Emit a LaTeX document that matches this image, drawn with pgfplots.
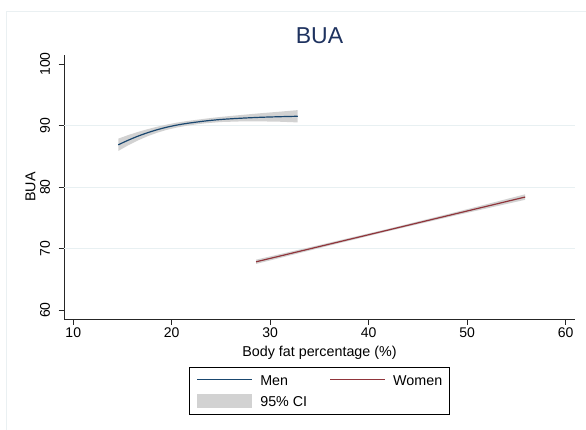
\documentclass[border=0pt]{standalone}
\usepackage{pgfplots}
\pgfplotsset{compat=1.18}
\usepackage{fontspec}
\setmainfont{Liberation Sans}
\definecolor{stnavy}{RGB}{26,71,111}
\definecolor{stmaroon}{RGB}{144,53,59}
\definecolor{cigray}{RGB}{210,210,210}
\definecolor{gridc}{RGB}{232,240,242}
\definecolor{titlec}{RGB}{30,50,95}
\definecolor{framec}{RGB}{234,240,242}
\begin{document}
\begin{tikzpicture}[x=1pt,y=1pt]
\begin{axis}[
  scale only axis,
  width=510.4pt, height=264pt,
  xmin=9.09, xmax=60.93, ymin=58.54, ymax=101.46,
  axis x line=bottom, axis y line=left,
  axis line style={-, line width=0.8pt, black!85},
  xtick={10,20,...,60}, ytick={60,70,...,100},
  tick align=outside, major tick length=5.7pt,
  tick style={line width=0.8pt, black!85},
  /pgf/number format/assume math mode=true,
  ticklabel style={font=\fontsize{14}{16}\selectfont, inner sep=0pt},
  xticklabel style={yshift=-2.6pt, anchor=north},
  yticklabel style={xshift=-8.3pt, rotate=90, anchor=south},
  extra y ticks={70,80,90}, extra y tick labels={},
  extra y tick style={grid=major, major tick length=0pt},
  major grid style={gridc, line width=0.8pt},
  title={\color{titlec}BUA},
  title style={at={(axis description cs:0.5,1.021)}, anchor=base, font=\fontsize{23}{26}\selectfont},
  xlabel={Body fat percentage (\%)},
  xlabel style={at={(axis description cs:0.5,-0.142)}, anchor=base, font=\fontsize{14.3}{16}\selectfont},
  ylabel={BUA},
  ylabel style={at={(axis description cs:-0.0568,0.5)}, anchor=base, font=\fontsize{14.3}{16}\selectfont},
  legend columns=2,
  legend style={at={(axis description cs:0.5,-0.183)}, anchor=north,
    draw=black, line width=0.8pt, inner xsep=7.3pt, inner ysep=7pt,
    font=\fontsize{14.3}{16}\selectfont,
    nodes={inner sep=0pt, text height=10.3pt, text depth=0pt},
    row sep=8.85pt,
    /tikz/every odd column/.append style={column sep=8pt},
    /tikz/every even column/.append style={column sep=22.5pt}},
  legend cell align=left,
]
\coordinate (sw) at (rel axis cs:0,0);
\addplot[fill=cigray, draw=none, forget plot] coordinates {
(14.57,87.86) (15.5,88.40) (16.5,88.92) (17.5,89.38) (18.5,89.79) (19.5,90.15) (20.5,90.46) (21.5,90.71) (22.5,90.92) (23.5,91.13) (25,91.40) (27,91.70) (29,91.99) (31,92.25) (32.8,92.50)
(32.8,90.50) (31,90.61) (29,90.67) (27,90.66) (25,90.56) (23.5,90.37) (22.5,90.18) (21.5,89.95) (20.5,89.66) (19.5,89.29) (18.5,88.81) (17.5,88.22) (16.5,87.52) (15.5,86.70) (14.57,85.86)
} -- cycle;
\addplot[fill=cigray, draw=none, forget plot] coordinates {
(28.57,68.19) (35,70.57) (42,73.21) (49,75.98) (55.9,78.82)
(55.9,77.92) (49,75.44) (42,72.81) (35,70.07) (28.57,67.49)
} -- cycle;
\addplot[stnavy, line width=1.2pt, smooth,
  legend image code/.code={\path[fill=stnavy, draw=none] (0pt,-0.1pt) rectangle (55.5pt,1.2pt);}] coordinates {
(14.57,86.86) (15.5,87.55) (16.5,88.22) (17.5,88.80) (18.5,89.30) (19.5,89.72) (20.5,90.06) (21.5,90.33) (22.5,90.55) (23.5,90.75) (25,90.98) (27,91.18) (29,91.33) (31,91.43) (32.8,91.50)
};
\addlegendentry{Men}
\addplot[stmaroon, line width=1.2pt,
  legend image code/.code={\path[fill=stmaroon, draw=none] (0pt,-0.1pt) rectangle (55.5pt,1.2pt);}] coordinates {
(28.57,67.84) (35,70.32) (42,73.01) (49,75.71) (55.9,78.37)
};
\addlegendentry{Women}
\addlegendimage{legend image code/.code={\path[fill=cigray, draw=none] (0pt,-7pt) rectangle (55.5pt,7pt);}}
\addlegendentry{95\% CI}
\end{axis}
\draw[framec, line width=0.8pt] ([shift={(-58.3,-130)}]sw) -- ([shift={(-58.3,308)}]sw) -- ([shift={(540,308)}]sw);
\pgfresetboundingbox
\path[use as bounding box] ([shift={(-64.3,-110)}]sw) rectangle ([shift={(521.7,319)}]sw);
\end{tikzpicture}
\end{document}
